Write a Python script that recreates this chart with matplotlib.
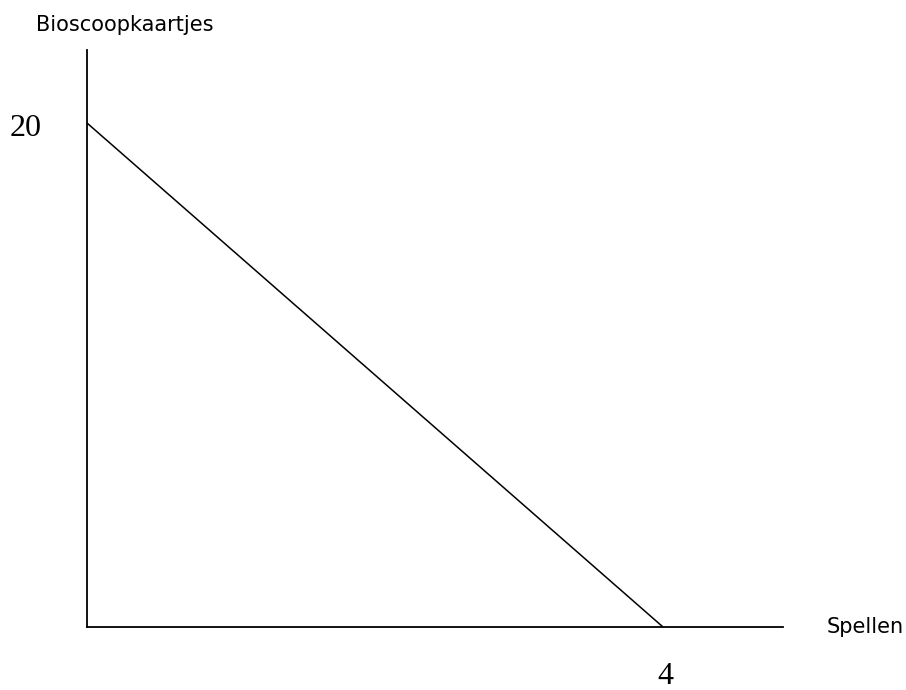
import matplotlib
matplotlib.use("Agg")
import matplotlib.pyplot as plt

# budgetlijn: 20 bioscoopkaartjes of 4 spellen
spellen = [0, 4]
kaartjes = [20, 0]

fig = plt.figure(figsize=(9.06, 6.9), dpi=100)
W, H = 906, 690
x0, y0, x1, y1 = 87, 627, 783, 50
ax = fig.add_axes([x0 / W, (H - y0) / H, (x1 - x0) / W, (y0 - y1) / H])

xmax = 4 / ((663 - x0) / (x1 - x0))
ymax = 20 / ((y0 - 123) / (y0 - y1))
ax.set_xlim(0, xmax)
ax.set_ylim(0, ymax)

ax.plot(spellen, kaartjes, color='black', lw=1.1, solid_capstyle='butt')

for s in ['top', 'right']:
    ax.spines[s].set_visible(False)
for s in ['left', 'bottom']:
    ax.spines[s].set_linewidth(1.3)
ax.set_xticks([])
ax.set_yticks([])

# labels op pixelposities van de figuur
fig.text(26 / W, (H - 129) / H, '20', ha='center', va='center', fontsize=23,
         family='Liberation Serif')
fig.text(665 / W, (H - 676) / H, '4', ha='center', va='center', fontsize=23,
         family='Liberation Serif')
fig.text(125 / W, (H - 25) / H, 'Bioscoopkaartjes', ha='center', va='center',
         fontsize=15, family='DejaVu Sans')
fig.text(865 / W, (H - 627) / H, 'Spellen', ha='center', va='center',
         fontsize=15, family='DejaVu Sans')

fig.savefig('out.png', dpi=100)
